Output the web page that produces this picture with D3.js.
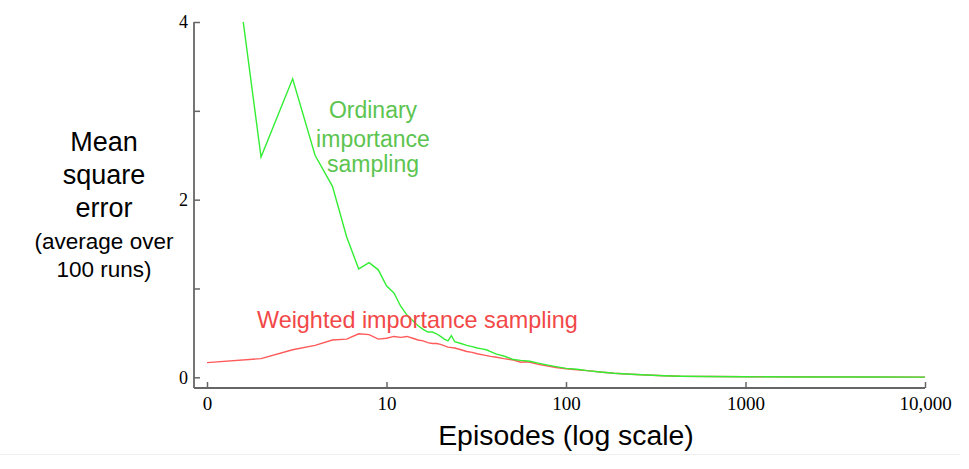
<!DOCTYPE html>
<meta charset="UTF-8">
<script src="https://d3js.org/d3.v7.min.js"></script>
<style>
  body { margin: 0; background: #fff; }
</style>
<div id="my_dataviz"></div>
<script>

  // Data
  const ordinaryEpisodes = [1, 2, 3, 4, 5, 6, 7, 8, 9, 10, 11, 12, 13, 14, 15, 16, 17, 18, 19, 20,
    21, 22, 23, 24, 26, 28, 30, 32, 34, 36, 38, 41, 45, 51, 56, 63, 70, 78, 88, 100,
    115, 131, 155, 185, 230, 283, 350, 435, 600, 1000, 2000, 5000, 10000];
  const ordinaryValues = [7.1, 2.48, 3.36, 2.50, 2.15, 1.58, 1.22, 1.29, 1.21, 1.03, 0.95, 0.80, 0.70, 0.64, 0.58, 0.54, 0.51, 0.51, 0.49, 0.46,
    0.43, 0.41, 0.47, 0.40, 0.38, 0.36, 0.345, 0.33, 0.32, 0.31, 0.29, 0.26, 0.24, 0.20, 0.19, 0.18, 0.16, 0.14, 0.12, 0.10,
    0.09, 0.075, 0.06, 0.045, 0.035, 0.026, 0.018, 0.012, 0.009, 0.006, 0.004, 0.003, 0.002];

  const weightedEpisodes = [1, 2, 3, 4, 5, 6, 7, 8, 9, 10, 11, 12, 13, 14, 15, 16, 17, 18, 19, 20,
    22, 24, 26, 28, 30, 32, 35, 38, 41, 45, 51, 56, 60, 63, 70, 78, 88, 100,
    115, 131, 155, 185, 230, 283, 350, 435, 1000, 10000];
  const weightedValues = [0.165, 0.21, 0.31, 0.36, 0.42, 0.43, 0.49, 0.48, 0.43, 0.44, 0.46, 0.45, 0.46, 0.44, 0.42, 0.41, 0.39, 0.38, 0.38, 0.37,
    0.34, 0.33, 0.31, 0.29, 0.28, 0.265, 0.25, 0.235, 0.225, 0.21, 0.195, 0.17, 0.175, 0.17, 0.145, 0.13, 0.11, 0.097,
    0.085, 0.075, 0.06, 0.045, 0.035, 0.026, 0.018, 0.012, 0.006, 0.002];

  const xTicks = [1, 10, 100, 1000, 10000];
  const xTickLabels = ["0", "10", "100", "1000", "10,000"];
  const yTicks = [0, 1, 2, 3, 4];
  const yTickLabels = ["0", "", "2", "", "4"];

  // Dimensions
  const width = 969, height = 469;
  const axisColor = "#666";
  const sans = "'Liberation Sans', Helvetica, Arial, sans-serif";
  const serif = "'Liberation Serif', 'Times New Roman', Times, serif";

  const svg = d3.select("#my_dataviz")
    .append("svg")
    .attr("width", width)
    .attr("height", height);

  const x = d3.scaleLog()
    .domain([1, 10000])
    .range([207, 925]);

  const y = d3.scaleLinear()
    .domain([0, 4])
    .range([377.3, 22]);

  const axisY0 = 388, axisX0 = 194;

  // Axes lines
  svg.append("line")
    .attr("x1", axisX0).attr("x2", x(10000))
    .attr("y1", axisY0).attr("y2", axisY0)
    .attr("stroke", axisColor).attr("stroke-width", 1.8);

  svg.append("line")
    .attr("x1", axisX0).attr("x2", axisX0)
    .attr("y1", y(4)).attr("y2", axisY0)
    .attr("stroke", axisColor).attr("stroke-width", 1.8);

  // X axis ticks
  const xAxis = svg.append("g")
    .attr("transform", `translate(0, ${axisY0})`)
    .call(d3.axisBottom(x)
      .tickValues(xTicks)
      .tickSizeInner(-6)
      .tickSizeOuter(0)
      .tickPadding(9)
      .tickFormat((d, i) => xTickLabels[i]));
  xAxis.select(".domain").remove();
  xAxis.selectAll("line").attr("stroke", axisColor).attr("stroke-width", 1.5);
  xAxis.selectAll("text")
    .style("font-family", serif)
    .style("font-size", "19px")
    .attr("fill", "#000");

  // Y axis ticks
  const yAxis = svg.append("g")
    .attr("transform", `translate(${axisX0}, 0)`)
    .call(d3.axisLeft(y)
      .tickValues(yTicks)
      .tickSizeInner(-6)
      .tickSizeOuter(0)
      .tickPadding(6)
      .tickFormat((d, i) => yTickLabels[i]));
  yAxis.select(".domain").remove();
  yAxis.selectAll("line").attr("stroke", axisColor).attr("stroke-width", 1.5);
  yAxis.selectAll("text")
    .style("font-family", serif)
    .style("font-size", "18px")
    .attr("fill", "#000");

  // Clip to the plot area
  svg.append("clipPath")
    .attr("id", "plot-clip")
    .append("rect")
    .attr("x", axisX0)
    .attr("y", y(4))
    .attr("width", x(10000) - axisX0 + 2)
    .attr("height", axisY0 - y(4));

  const line = d3.line()
    .x(d => x(d[0]))
    .y(d => y(d[1]));

  const weighted = weightedEpisodes.map((e, i) => [e, weightedValues[i]]);
  const ordinary = ordinaryEpisodes.map((e, i) => [e, ordinaryValues[i]]);

  svg.append("path")
    .datum(weighted)
    .attr("clip-path", "url(#plot-clip)")
    .attr("fill", "none")
    .attr("stroke", "#ff5a5a")
    .attr("stroke-width", 1.4)
    .attr("d", line);

  svg.append("path")
    .datum(ordinary)
    .attr("clip-path", "url(#plot-clip)")
    .attr("fill", "none")
    .attr("stroke", "#33ee33")
    .attr("stroke-width", 1.4)
    .attr("d", line);

  // Series labels
  const ordLabel = svg.append("text")
    .attr("text-anchor", "middle")
    .style("font-family", sans)
    .style("font-size", "23px")
    .attr("fill", "#5cc450");
  [["Ordinary", 118], ["importance", 146.5], ["sampling", 172]].forEach(([t, yy]) => {
    ordLabel.append("tspan").attr("x", 373).attr("y", yy).text(t);
  });

  svg.append("text")
    .attr("x", 257)
    .attr("y", 328)
    .style("font-family", sans)
    .style("font-size", "23.4px")
    .attr("fill", "#f24848")
    .text("Weighted importance sampling");

  // Y axis title
  const yTitle = svg.append("text")
    .attr("text-anchor", "middle")
    .style("font-family", sans)
    .attr("fill", "#000");
  [["Mean", 150.5, 27], ["square", 184, 27], ["error", 217, 27],
   ["(average over", 248.5, 22.5], ["100 runs)", 277, 22.5]].forEach(([t, yy, fs]) => {
    yTitle.append("tspan").attr("x", 104).attr("y", yy).style("font-size", fs + "px").text(t);
  });

  // X axis title
  svg.append("text")
    .attr("x", 566)
    .attr("y", 445)
    .attr("text-anchor", "middle")
    .style("font-family", sans)
    .style("font-size", "28.4px")
    .attr("fill", "#000")
    .text("Episodes (log scale)");

  // faint separator at the bottom
  svg.append("line")
    .attr("x1", 0).attr("x2", 960)
    .attr("y1", 454.5).attr("y2", 454.5)
    .attr("stroke", "#eeeeee")
    .attr("stroke-width", 1);

</script>
